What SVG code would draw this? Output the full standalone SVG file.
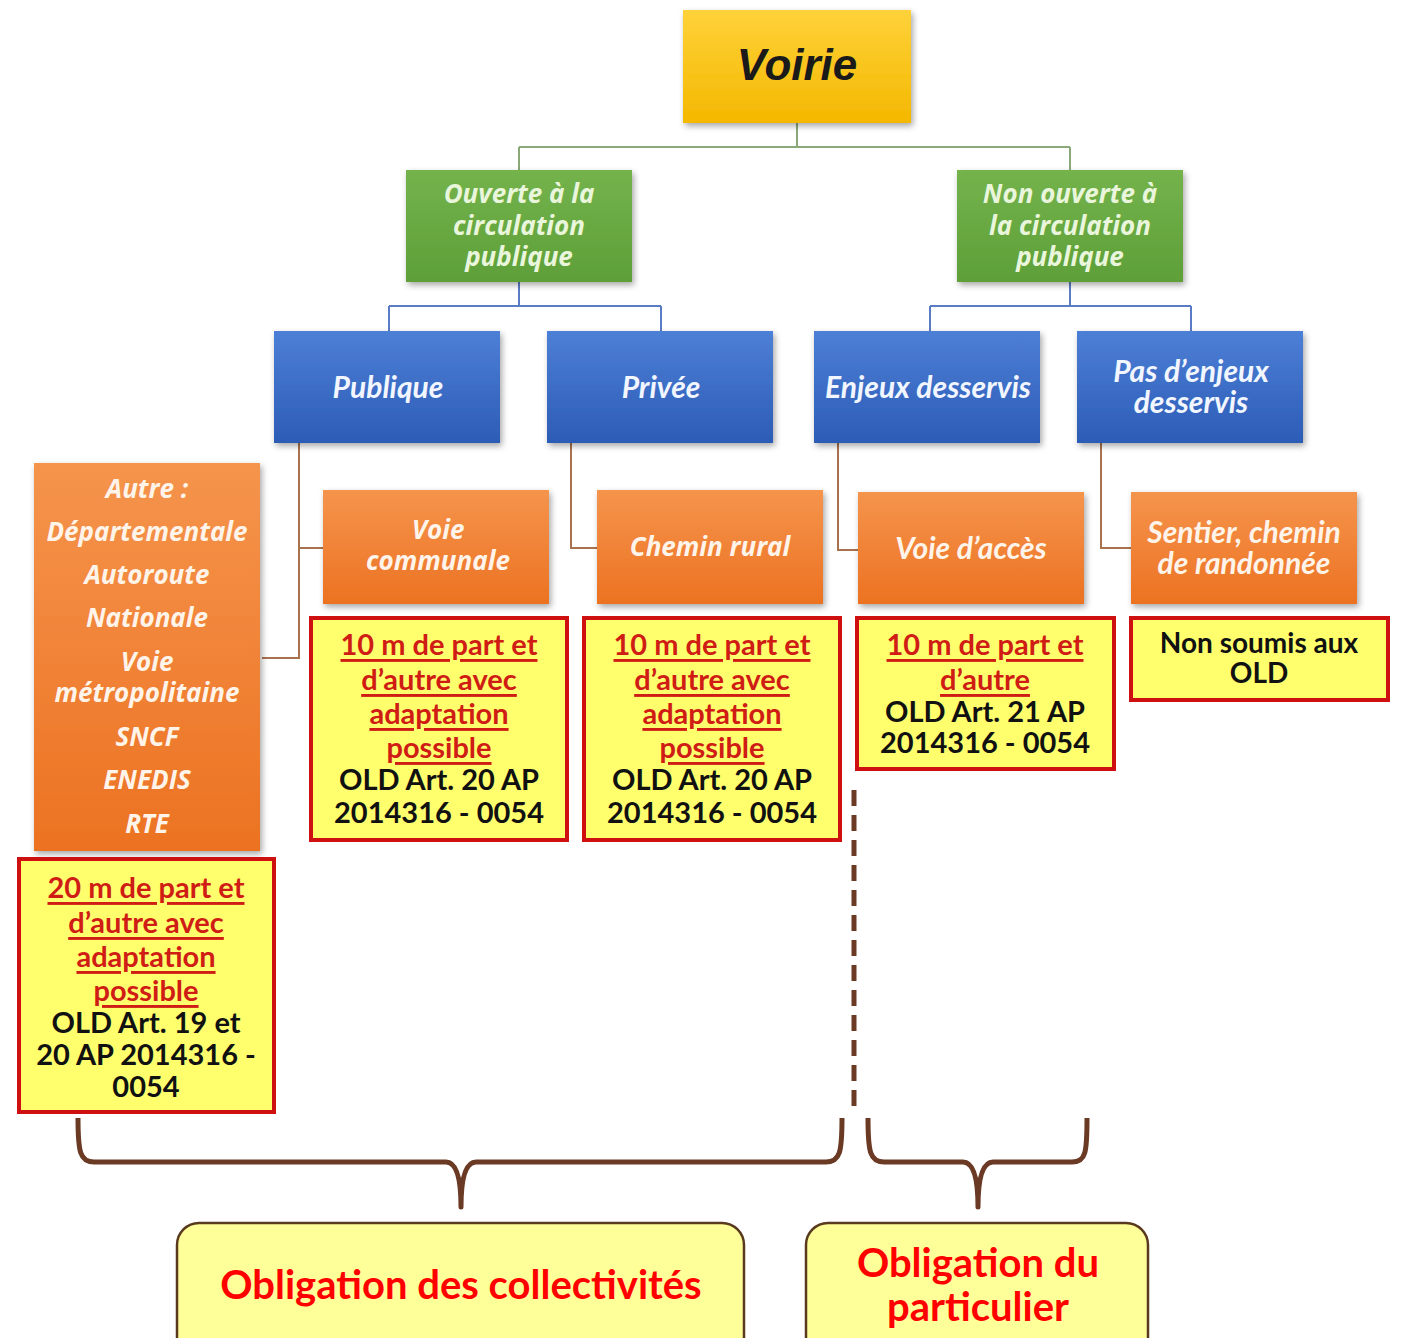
<svg xmlns="http://www.w3.org/2000/svg" width="1402" height="1338" viewBox="0 0 1402 1338">
<style>
.hdr{font-family:"Open Sans","Liberation Sans",sans-serif;font-weight:700;font-style:italic;text-anchor:middle;dominant-baseline:central}
.cal{font-family:Lato,"Liberation Sans",sans-serif;font-weight:700;font-style:italic;text-anchor:middle;dominant-baseline:central}
.g{fill:#eaf6dc;font-size:26px}
.b{fill:#f2f6ff;font-size:30px}
.o{fill:#fff4ea;font-size:26px}
.o30{fill:#fff4ea;font-size:30px}
.rt{font-family:Lato,"Liberation Sans",sans-serif;font-weight:700;text-anchor:middle;dominant-baseline:central;font-size:29px}
.rt28{font-size:28px}
.red{fill:#cf1c14;text-decoration:underline}
.blk{fill:#111}
.ybox{fill:#ffff6e;stroke:#cf1010;stroke-width:4}
.con{fill:none;stroke-width:2}
.brace{fill:none;stroke:#6b3a24;stroke-width:5;stroke-linejoin:round}
.obox{fill:#ffff99;stroke:#5a3a1e;stroke-width:2.5}
.ot{font-family:Lato,"Liberation Sans",sans-serif;font-weight:700;fill:#ff0000;text-anchor:middle;dominant-baseline:central;font-size:40px}
</style>
<defs>
<linearGradient id="gy" x1="0" y1="0" x2="0" y2="1"><stop offset="0" stop-color="#ffd23a"/><stop offset="1" stop-color="#f4b800"/></linearGradient>
<linearGradient id="gg" x1="0" y1="0" x2="0" y2="1"><stop offset="0" stop-color="#74b34c"/><stop offset="1" stop-color="#5e9f38"/></linearGradient>
<linearGradient id="gb" x1="0" y1="0" x2="0" y2="1"><stop offset="0" stop-color="#4d7fd6"/><stop offset="1" stop-color="#2c5cb6"/></linearGradient>
<linearGradient id="go" x1="0" y1="0" x2="0" y2="1"><stop offset="0" stop-color="#f5944c"/><stop offset="1" stop-color="#ec7222"/></linearGradient>
<filter id="sh" x="-10%" y="-10%" width="125%" height="130%"><feDropShadow dx="2" dy="3" stdDeviation="3" flood-color="#000" flood-opacity="0.35"/></filter>
</defs>

<g id="connectors">
<path class="con" stroke="#8aa87a" d="M797,123 V147 M519,147 H1070 M519,147 V170 M1070,147 V170"/>
<path class="con" stroke="#5a7cc4" d="M519,282 V306 M389,306 H661 M389,306 V331 M661,306 V331 M1070,282 V306 M930,306 H1191 M930,306 V331 M1191,306 V331"/>
<path class="con" stroke="#a8724e" d="M299,443 V658 H262 M299,548 H323 M571,443 V548 H597 M838,443 V550 H858 M1101,443 V548 H1131"/>
<line x1="854" y1="790" x2="854" y2="1107" stroke="#6b3a24" stroke-width="5" stroke-dasharray="16,9"/>
<path class="brace" d="M78,1118 C78,1152 80,1162 94,1162 L446,1162 Q461,1162 461,1207 Q461,1162 476,1162 L826,1162 C840,1162 842,1152 842,1118"/>
<path class="brace" d="M868,1118 C868,1152 870,1162 884,1162 L963,1162 Q978,1162 978,1207 Q978,1162 993,1162 L1072,1162 C1086,1162 1087,1152 1087,1118"/>
</g>

<g id="voirie"><rect x="683" y="10" width="228" height="113" fill="url(#gy)" filter="url(#sh)"/><text x="797" y="64" font-family="Liberation Sans,Arial,sans-serif" font-weight="700" font-style="italic" font-size="44" fill="#1a1a1a" text-anchor="middle" dominant-baseline="central">Voirie</text></g>

<g id="ouverte"><rect x="406" y="170" width="226" height="112" fill="url(#gg)" filter="url(#sh)"/><text class="hdr g" x="519"><tspan x="519" y="193">Ouverte à la</tspan><tspan x="519" y="225">circulation</tspan><tspan x="519" y="256">publique</tspan></text></g>
<g id="nonouverte"><rect x="957" y="170" width="226" height="112" fill="url(#gg)" filter="url(#sh)"/><text class="hdr g" x="1070"><tspan x="1070" y="193">Non ouverte à</tspan><tspan x="1070" y="225">la circulation</tspan><tspan x="1070" y="256">publique</tspan></text></g>

<g id="publique"><rect x="274" y="331" width="226" height="112" fill="url(#gb)" filter="url(#sh)"/><text class="cal b" x="388" y="386">Publique</text></g>
<g id="privee"><rect x="547" y="331" width="226" height="112" fill="url(#gb)" filter="url(#sh)"/><text class="cal b" x="661" y="386">Privée</text></g>
<g id="enjeux"><rect x="814" y="331" width="226" height="112" fill="url(#gb)" filter="url(#sh)"/><text class="cal b" x="928" y="386">Enjeux desservis</text></g>
<g id="pasenjeux"><rect x="1077" y="331" width="226" height="112" fill="url(#gb)" filter="url(#sh)"/><text class="cal b" x="1191"><tspan x="1191" y="370">Pas d’enjeux</tspan><tspan x="1191" y="401">desservis</tspan></text></g>

<g id="autre"><rect x="34" y="463" width="226" height="388" fill="url(#go)" filter="url(#sh)"/><text class="hdr o" x="147"><tspan x="147" y="488">Autre :</tspan><tspan x="147" y="531">Départementale</tspan><tspan x="147" y="574">Autoroute</tspan><tspan x="147" y="617">Nationale</tspan><tspan x="147" y="661">Voie</tspan><tspan x="147" y="692">métropolitaine</tspan><tspan x="147" y="736">SNCF</tspan><tspan x="147" y="779">ENEDIS</tspan><tspan x="147" y="823">RTE</tspan></text></g>
<g id="voiecommunale"><rect x="323" y="490" width="226" height="114" fill="url(#go)" filter="url(#sh)"/><text class="hdr o" x="438"><tspan x="438" y="529">Voie</tspan><tspan x="438" y="560">communale</tspan></text></g>
<g id="cheminrural"><rect x="597" y="490" width="226" height="114" fill="url(#go)" filter="url(#sh)"/><text class="hdr o" x="710" y="546">Chemin rural</text></g>
<g id="voieacces"><rect x="858" y="492" width="226" height="112" fill="url(#go)" filter="url(#sh)"/><text class="cal o30" x="971" y="547">Voie d’accès</text></g>
<g id="sentier"><rect x="1131" y="492" width="226" height="112" fill="url(#go)" filter="url(#sh)"/><text class="cal o30" x="1244"><tspan x="1244" y="531">Sentier, chemin</tspan><tspan x="1244" y="562">de randonnée</tspan></text></g>

<g id="regle-communale"><rect class="ybox" x="311" y="618" width="256" height="222"/><text class="rt"><tspan class="red" x="439" y="643">10 m de part et</tspan><tspan class="red" x="439" y="678">d’autre avec</tspan><tspan class="red" x="439" y="712">adaptation</tspan><tspan class="red" x="439" y="746">possible</tspan><tspan class="blk" x="439" y="778">OLD Art. 20 AP</tspan><tspan class="blk" x="439" y="811">2014316 - 0054</tspan></text></g>
<g id="regle-rural"><rect class="ybox" x="584" y="618" width="256" height="222"/><text class="rt"><tspan class="red" x="712" y="643">10 m de part et</tspan><tspan class="red" x="712" y="678">d’autre avec</tspan><tspan class="red" x="712" y="712">adaptation</tspan><tspan class="red" x="712" y="746">possible</tspan><tspan class="blk" x="712" y="778">OLD Art. 20 AP</tspan><tspan class="blk" x="712" y="811">2014316 - 0054</tspan></text></g>
<g id="regle-acces"><rect class="ybox" x="857" y="618" width="257" height="151"/><text class="rt"><tspan class="red" x="985" y="643">10 m de part et</tspan><tspan class="red" x="985" y="678">d’autre</tspan><tspan class="blk" x="985" y="710">OLD Art. 21 AP</tspan><tspan class="blk" x="985" y="741">2014316 - 0054</tspan></text></g>
<g id="regle-sentier"><rect class="ybox" x="1131" y="618" width="257" height="82"/><text class="rt rt28"><tspan class="blk" x="1259" y="642">Non soumis aux</tspan><tspan class="blk" x="1259" y="672">OLD</tspan></text></g>
<g id="regle-autre"><rect class="ybox" x="19" y="859" width="255" height="253"/><text class="rt"><tspan class="red" x="146" y="886">20 m de part et</tspan><tspan class="red" x="146" y="921">d’autre avec</tspan><tspan class="red" x="146" y="955">adaptation</tspan><tspan class="red" x="146" y="989">possible</tspan><tspan class="blk" x="146" y="1021">OLD Art. 19 et</tspan><tspan class="blk" x="146" y="1053">20 AP 2014316 -</tspan><tspan class="blk" x="146" y="1085">0054</tspan></text></g>

<g id="obligation-collectivites"><rect class="obox" x="177" y="1223" width="567" height="140" rx="22"/><text class="ot" x="461" y="1284">Obligation des collectivités</text></g>
<g id="obligation-particulier"><rect class="obox" x="806" y="1223" width="342" height="140" rx="22"/><text class="ot"><tspan x="978" y="1262">Obligation du</tspan><tspan x="978" y="1306">particulier</tspan></text></g>
</svg>
